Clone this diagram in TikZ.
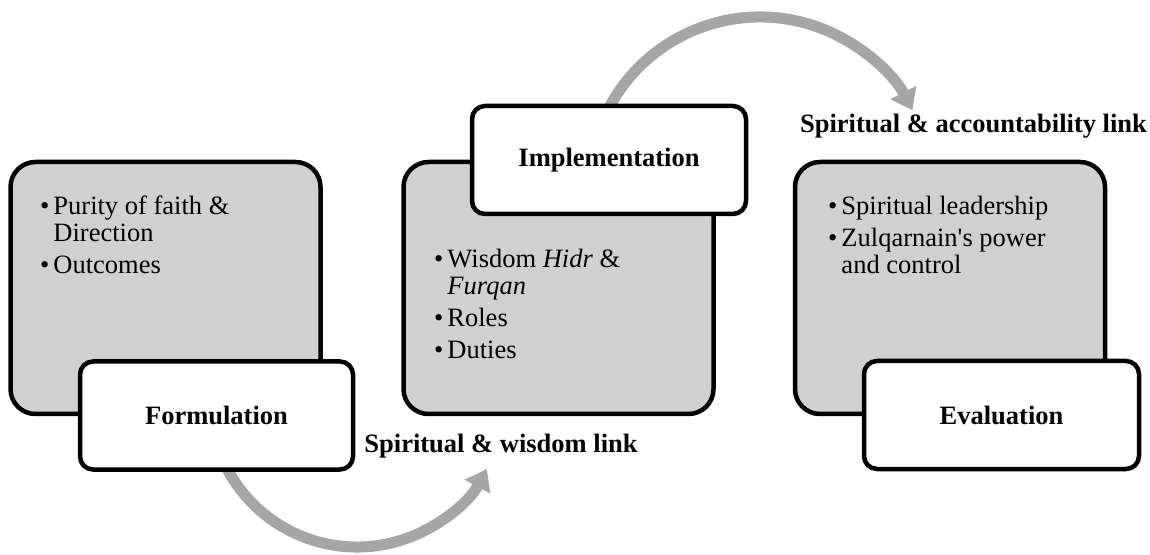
\documentclass[tikz,border=0pt]{standalone}
\usepackage{fontspec}
\setmainfont{Liberation Serif}
\usetikzlibrary{arrows.meta,calc}
\definecolor{boxgray}{RGB}{208,208,208}
\definecolor{arrowgray}{RGB}{166,166,166}
\begin{document}
\begin{tikzpicture}[x=1pt,y=1pt,
  graybox/.style={draw=black, line width=4.5pt, fill=boxgray, rounded corners=25pt,
    minimum width=310pt, minimum height=252pt, inner sep=0pt},
  whitebox/.style={draw=black, line width=4.5pt, fill=white, rounded corners=13pt,
    minimum height=108pt, inner sep=0pt, font=\fontsize{26.5}{30}\selectfont\bfseries},
  listtext/.style={inner sep=0pt, anchor=base west, font=\fontsize{26.5}{27}\selectfont},
  linklabel/.style={inner sep=0pt, anchor=base, font=\fontsize{26.5}{30}\selectfont\bfseries},
  arcarrow/.style={draw=arrowgray, line width=11pt, -{Triangle[length=20pt,width=28pt]}}
]
\useasboundingbox (0,0) rectangle (1150,554);

% gray content boxes
\node[graybox] (g1) at (165.5,266) {};
\node[graybox] (g2) at (558.5,266) {};
\node[graybox] (g3) at (950,266) {};

% curved arrows
\coordinate (c1) at (357,154);
\coordinate (c2) at (760,366);
\draw[arcarrow] ($(c1)+(200:147pt)$) arc[start angle=200, end angle=332, radius=147pt];
\draw[arcarrow] ($(c2)+(155:171pt)$) arc[start angle=155, end angle=27, radius=171pt];

% title boxes
\node[whitebox, minimum width=273pt] (f) at (216.5,138.5) {Formulation};
\node[whitebox, minimum width=274pt] (i) at (609,394) {Implementation};
\node[whitebox, minimum width=275pt] (e) at (1001.5,139) {Evaluation};

% lists
\node[listtext] (l1) at (40,339) {\begin{tabular}[t]{@{}l@{\hspace{4pt}}l@{}}
\textbullet & Purity of faith \& \\
 & Direction \\[5pt]
\textbullet & Outcomes
\end{tabular}};
\node[listtext] (l2) at (434,286) {\begin{tabular}[t]{@{}l@{\hspace{4pt}}l@{}}
\textbullet & Wisdom \textit{Hidr} \& \\
 & \textit{Furqan} \\[5pt]
\textbullet & Roles \\[5pt]
\textbullet & Duties
\end{tabular}};
\node[listtext] (l3) at (828,339) {\begin{tabular}[t]{@{}l@{\hspace{4pt}}l@{}}
\textbullet & Spiritual leadership \\[5pt]
\textbullet & Zulqarnain\textquotesingle s power \\
 & and control
\end{tabular}};

% link labels
\node[linklabel] (lab1) at (501,101) {Spiritual \& wisdom link};
\node[linklabel] (lab2) at (973.5,421) {Spiritual \& accountability link};
\end{tikzpicture}
\end{document}
